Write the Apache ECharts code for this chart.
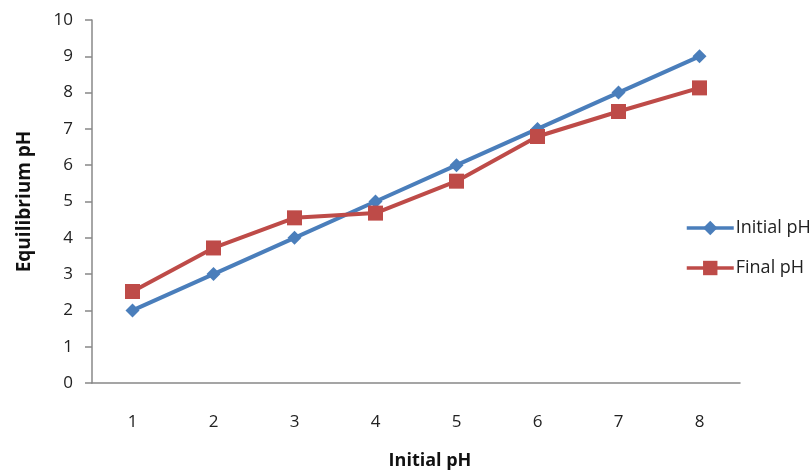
<!DOCTYPE html>
<html>
<head>
<meta charset="utf-8">
<script src="https://cdn.jsdelivr.net/npm/echarts@6/dist/echarts.min.js"></script>
<style>
  html, body { margin: 0; padding: 0; background: #fff; overflow: hidden; }
  #chart { width: 811px; height: 471px; }
</style>
</head>
<body>
<div id="chart"></div>
<script>
// Initial pH of each run (category axis)
const categories = ['1', '2', '3', '4', '5', '6', '7', '8'];
// Equilibrium pH readings
const initialPH = [2, 3, 4, 5, 6, 7, 8, 9];
const finalPH = [2.52, 3.72, 4.55, 4.68, 5.56, 6.79, 7.48, 8.13];

const font = '"Open Sans", "Liberation Sans", sans-serif';
const chart = echarts.init(document.getElementById('chart'));

chart.setOption({
  backgroundColor: '#ffffff',
  animation: false,
  grid: { left: 92, width: 648, top: 20, height: 363, containLabel: false, outerBoundsMode: 'none' },
  legend: {
    orient: 'vertical',
    left: 680,
    top: 213,
    itemGap: 20,
    itemWidth: 47,
    itemHeight: 18,
    lineStyle: { width: 3.5 },
    textStyle: { fontFamily: font, fontSize: 18, lineHeight: 20, color: '#222', padding: [0, 0, 0, -3] },
    data: ['Initial pH', 'Final pH']
  },
  xAxis: {
    type: 'category',
    data: categories,
    boundaryGap: true,
    name: 'Initial pH',
    nameLocation: 'middle',
    nameGap: 69,
    nameTextStyle: { fontFamily: font, fontSize: 18, fontWeight: 'bold', color: '#111', padding: [0, 0, 0, 28] },
    axisLine: { lineStyle: { color: '#888', width: 1.5 } },
    axisTick: { show: false },
    axisLabel: { margin: 31, fontFamily: font, fontSize: 17, color: '#222' },
    splitLine: { show: false }
  },
  yAxis: {
    type: 'value',
    min: 0,
    max: 10,
    interval: 1,
    name: 'Equilibrium pH',
    nameLocation: 'middle',
    nameGap: 58,
    nameRotate: 90,
    nameTextStyle: { fontFamily: font, fontSize: 19, fontWeight: 'bold', color: '#111' },
    axisLine: { show: true, lineStyle: { color: '#888', width: 1.5 } },
    axisTick: { show: true, length: 7, lineStyle: { color: '#888', width: 1.5 } },
    axisLabel: { margin: 19, fontFamily: font, fontSize: 17, color: '#222' },
    splitLine: { show: false }
  },
  series: [
    {
      name: 'Initial pH',
      type: 'line',
      data: initialPH,
      symbol: 'diamond',
      symbolSize: 14,
      lineStyle: { width: 4, color: '#4a7ebb' },
      itemStyle: { color: '#4a7ebb' }
    },
    {
      name: 'Final pH',
      type: 'line',
      data: finalPH,
      symbol: 'rect',
      symbolSize: 15,
      lineStyle: { width: 4, color: '#be4b48' },
      itemStyle: { color: '#be4b48' }
    }
  ]
});
</script>
</body>
</html>
